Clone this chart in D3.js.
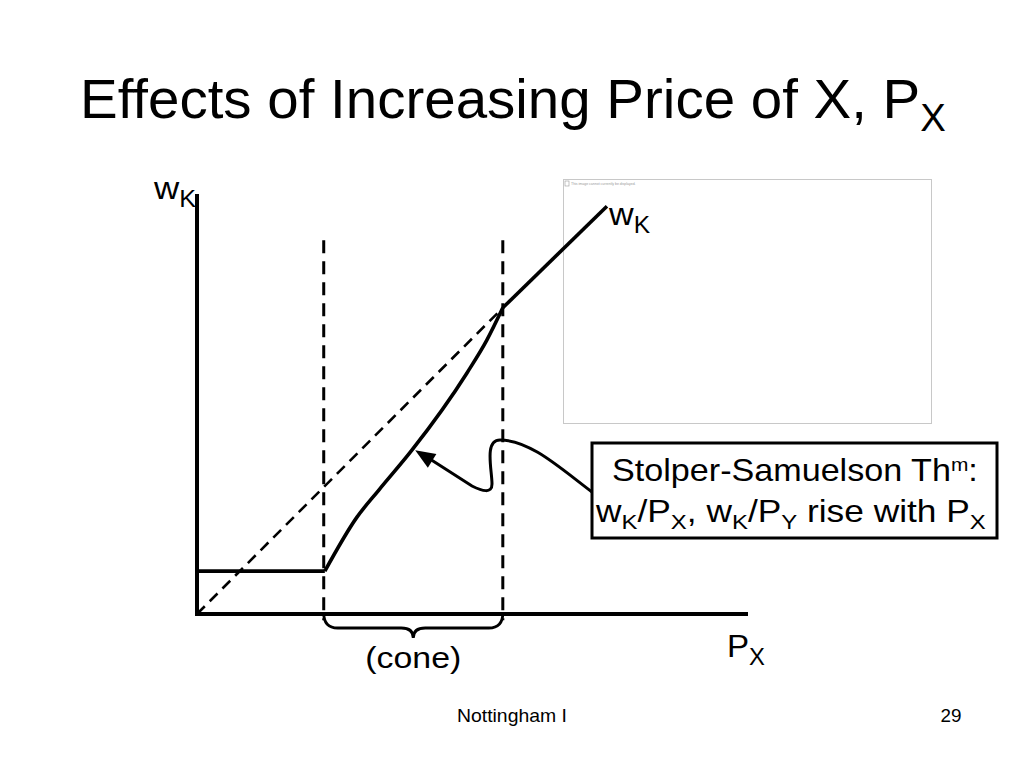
<!DOCTYPE html>
<html>
<head>
<meta charset="utf-8">
<script src="https://cdn.jsdelivr.net/npm/d3@7/dist/d3.min.js"></script>
<style>
  html, body { margin: 0; padding: 0; background: #fff; }
  svg { display: block; font-family: "Liberation Sans", Arial, sans-serif; }
</style>
</head>
<body>
<svg id="chart" width="1024" height="768"></svg>
<script>
// ---- data (P_X on x, w_K on y; arbitrary units) ----
const flatSegment = [[0, 1.02], [2.32, 1.02]];
const coneBounds = [2.30, 5.55];
const coneTop = 8.9;
const rayFromOrigin = [[0, 0], [5.55, 7.29]];
const coneCurve = [[2.32, 1.02], [2.9, 2.3], [3.3, 2.95], [3.9, 3.9], [4.9, 5.74], [5.26, 6.52], [5.55, 7.29]];
const upperSegment = [[5.55, 7.29], [7.44, 9.71]];
const arrowTip = [3.96, 3.9];
const titleParts = [["Effects of Increasing Price of X, P", false], ["X", true]];
const boxLine1 = [["Stolper-Samuelson Th", false], ["m", "sup"], [":", false]];
const boxLine2 = [["w", false], ["K", true], ["/P", false], ["X", true], [", w", false], ["K", true], ["/P", false], ["Y", true], [" rise with P", false], ["X", true]];
const footerLeft = "Nottingham I";
const footerRight = "29";

const svg = d3.select("#chart");
const x = d3.scaleLinear().domain([0, 10]).range([197, 748]);
const y = d3.scaleLinear().domain([0, 10]).range([614, 194]);
const line = d3.line().x(d => x(d[0])).y(d => y(d[1]));

// rich text helper: parts [text, sub?]; optionally fitted to a width
function richText(parts, px, py, size, subSize, targetW, anchor) {
  const g = svg.append("g");
  const t = g.append("text").attr("x", 0).attr("y", 0).attr("font-size", size).attr("fill", "#000");
  let offset = 0;
  parts.forEach(([s, sub]) => {
    let target = 0, fs = size;
    if (sub === true) { target = size * 0.24; fs = subSize; }
    else if (sub === "sup") { target = -size * 0.33; fs = subSize; }
    t.append("tspan").attr("font-size", fs).attr("dy", target - offset).text(s);
    offset = target;
  });
  const w = t.node().getComputedTextLength();
  const sx = targetW ? targetW / w : 1;
  const ww = w * sx;
  const x0 = anchor === "middle" ? px - ww / 2 : px;
  g.attr("transform", `translate(${x0},${py}) scale(${sx},1)`);
  return g;
}

// image placeholder frame
svg.append("rect").attr("x", 563.5).attr("y", 179.5).attr("width", 368).attr("height", 244)
  .attr("fill", "none").attr("stroke", "#c8c8c8").attr("stroke-width", 1);
svg.append("rect").attr("x", 565).attr("y", 181).attr("width", 4).attr("height", 5)
  .attr("fill", "none").attr("stroke", "#999").attr("stroke-width", 0.6);
svg.append("text").attr("x", 571).attr("y", 185).attr("font-size", 3.5).attr("fill", "#999")
  .text("This image cannot currently be displayed.");

// title
richText(titleParts, 80, 118, 56, 38, 866, "start");

// axes
svg.append("line").attr("x1", x(0)).attr("y1", y(0) + 2).attr("x2", x(0)).attr("y2", y(10))
  .attr("stroke", "#000").attr("stroke-width", 4);
svg.append("line").attr("x1", x(0) - 2).attr("y1", y(0)).attr("x2", x(10)).attr("y2", y(0))
  .attr("stroke", "#000").attr("stroke-width", 4);

// cone boundaries (dashed)
coneBounds.forEach(v => {
  svg.append("line").attr("x1", x(v)).attr("x2", x(v)).attr("y1", y(coneTop)).attr("y2", y(-0.15))
    .attr("stroke", "#000").attr("stroke-width", 3).attr("stroke-dasharray", "13,8");
});

// dashed ray from origin
svg.append("path").attr("d", line(rayFromOrigin)).attr("fill", "none")
  .attr("stroke", "#000").attr("stroke-width", 2.6).attr("stroke-dasharray", "11,7");

// w_K schedule
svg.append("path").attr("d", line(flatSegment)).attr("fill", "none").attr("stroke", "#000").attr("stroke-width", 3.6);
svg.append("path").attr("d", d3.line().x(d => x(d[0])).y(d => y(d[1])).curve(d3.curveMonotoneX)(coneCurve))
  .attr("fill", "none").attr("stroke", "#000").attr("stroke-width", 3.6);
svg.append("path").attr("d", line(upperSegment)).attr("fill", "none").attr("stroke", "#000")
  .attr("stroke-width", 3.6).attr("stroke-linecap", "butt");

// brace under the cone
(function () {
  const l = x(coneBounds[0]), r = x(coneBounds[1]), m = (l + r) / 2;
  const t = y(0) - 1, b = t + 15, tip = b + 10;
  const d = `M${l},${t} Q${l},${b} ${l + 14},${b} L${m - 12},${b} Q${m},${b} ${m},${tip}` +
            ` Q${m},${b} ${m + 12},${b} L${r - 14},${b} Q${r},${b} ${r},${t}`;
  svg.append("path").attr("d", d).attr("fill", "none").attr("stroke", "#000").attr("stroke-width", 2.8);
})();

// annotation box
svg.append("rect").attr("x", 592).attr("y", 443).attr("width", 405).attr("height", 95)
  .attr("fill", "#fff").attr("stroke", "#000").attr("stroke-width", 3);
richText(boxLine1, 795, 481, 31, 19, 366, "middle");
richText(boxLine2, 791, 522, 31, 21, 390, "middle");

// arrow from box to curve
(function () {
  const tx = x(arrowTip[0]), ty = y(arrowTip[1]);
  const d = `M592,492 C560,468 530,440 500,440 C484,440 492,470 492,484 C492,494 482,491 472,486 L${tx + 12},${ty + 7}`;
  svg.append("path").attr("d", d).attr("fill", "none").attr("stroke", "#000").attr("stroke-width", 3);
  const ang = Math.atan2(ty - 486, tx - 472);
  const L = 20, W = 8;
  const p = [[tx, ty],
    [tx - L * Math.cos(ang) + W * Math.sin(ang), ty - L * Math.sin(ang) - W * Math.cos(ang)],
    [tx - L * Math.cos(ang) - W * Math.sin(ang), ty - L * Math.sin(ang) + W * Math.cos(ang)]];
  svg.append("path").attr("d", "M" + p.join("L") + "Z").attr("fill", "#000");
})();

// labels
richText([["w", false], ["K", true]], 154, 199, 32, 23, 42, "start");
richText([["w", false], ["K", true]], 609, 225, 32, 23, 41, "start");
richText([["P", false], ["X", true]], 727, 657, 32, 23, 38, "start");
richText([["(cone)", false]], x((coneBounds[0] + coneBounds[1]) / 2), 668, 30, 20, 96, "middle");

// footer
richText([[footerLeft, false]], 512, 722, 18, 12, 110, "middle");
richText([[footerRight, false]], 951, 722, 18, 12, 21, "middle");
</script>
</body>
</html>
